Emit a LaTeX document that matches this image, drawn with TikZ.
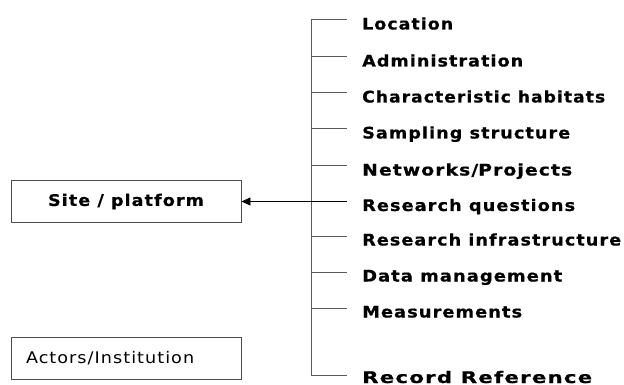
\documentclass[tikz,border=0pt]{standalone}
\usepackage{fontspec}
\setmainfont{DejaVu Sans}
\newfontfamily\itemfont[FakeStretch=1.1, LetterSpace=6.5, BoldFeatures={FakeBold=0.6}]{DejaVu Sans}
\usetikzlibrary{arrows.meta}
\begin{document}
\begin{tikzpicture}[x=1pt,y=-1pt,
  item/.style={anchor=base west, font=\itemfont\bfseries\fontsize{16}{19}\selectfont, inner sep=0pt},
  tickline/.style={draw=black!65, line width=1pt},
  boxnode/.style={draw=black!70, line width=0.9pt, minimum width=230pt, minimum height=42pt, font=\itemfont\fontsize{16}{19}\selectfont}]
\useasboundingbox (0,0) rectangle (624,385);
\foreach \k/\y/\b/\w/\t in {0/20/9.5/91/Location,1/57/9.5/161/Administration,2/93/9.5/243/Characteristic habitats,3/129/9.5/208/Sampling structure,4/166/9.5/210/Networks\slash Projects,5/201.5/9.5/213/Research questions,6/236/9.5/259/Research infrastructure,7/272/9.5/200/Data management,8/308/9.5/160/Measurements,10/375/8/230/Record Reference}{
  \coordinate (t\k) at (311,\y);
  \coordinate (e\k) at (347,\y);
  \node[item] (n\k) at (362,\y+\b) {\resizebox{\w pt}{\height}{\t}};
  \draw[tickline] (t\k) -- (e\k);
}
\draw[tickline] (t0) -- (t10);
\node[boxnode, font=\itemfont\bfseries\fontsize{16}{19}\selectfont] (site) at (126,201.5) {Site / platform};
\node[boxnode, text width=200pt, inner xsep=15pt, align=left] (actors) at (126,358) {Actors/Institution};
\draw[black, line width=0.9pt, -{Triangle[length=9pt,width=8pt]}] (e5) -- (site.east);
\end{tikzpicture}
\end{document}
